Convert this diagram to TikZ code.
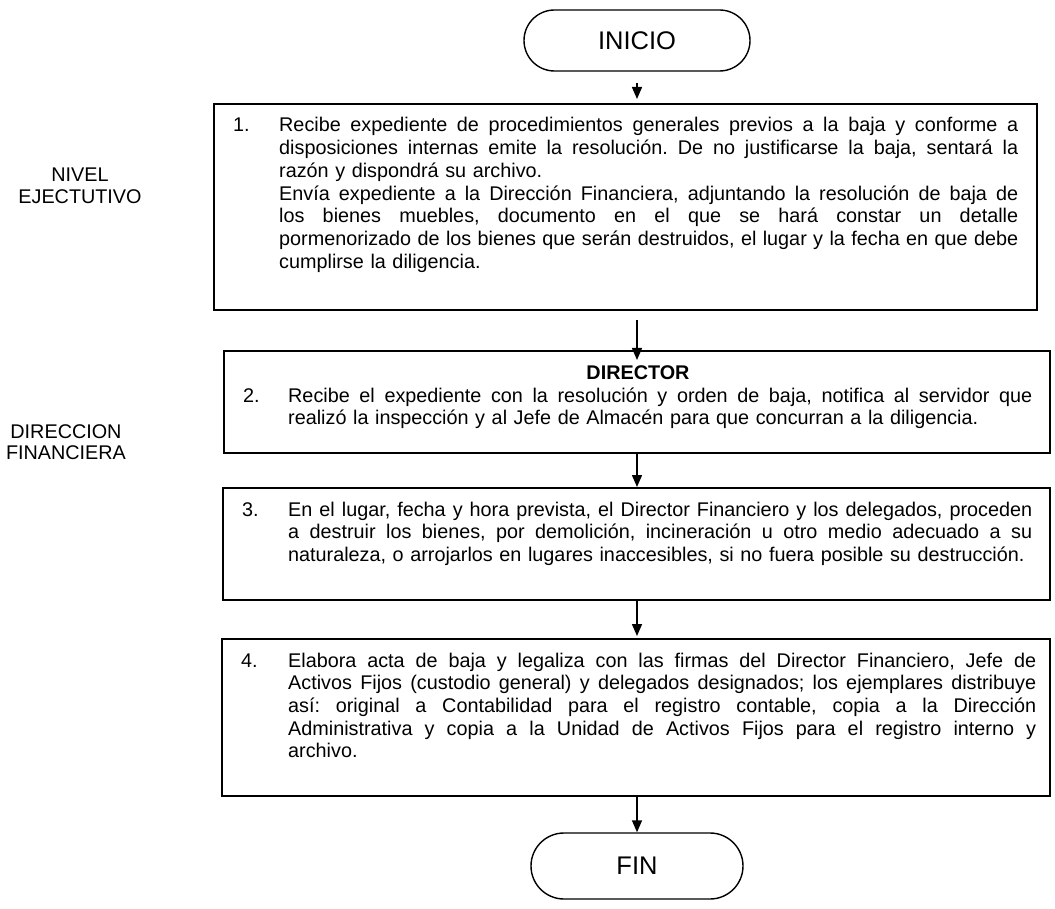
\documentclass[tikz,border=0pt]{standalone}
\usepackage{fontspec}
\setmainfont{Liberation Sans}
\usetikzlibrary{arrows.meta,shapes.misc}

% one justified line / one natural-width line of a step description
\newcommand{\stepw}{700pt}
\newcommand{\jline}[1]{\makebox[\stepw][s]{\spaceskip=0.278em plus 1em minus 0.1em\relax #1}\par}
\newcommand{\lline}[1]{\mbox{#1}\par}

\tikzset{
  stepbox/.style={draw, line width=1.8pt, rectangle, inner sep=0pt, outer sep=0pt, anchor=north west},
  terminal/.style={draw, line width=1.4pt, rounded rectangle, inner sep=0pt,
                   font=\fontsize{25.5}{30}\selectfont},
  bodytext/.style={inner sep=0pt, anchor=base west, font=\fontsize{19.8}{22.7}\selectfont\frenchspacing},
  steptext/.style={bodytext, text width=#1, execute at begin node={\def\stepw{#1}}},
  lanelabel/.style={align=center, inner sep=0pt, font=\fontsize{19.8}{21.5}\selectfont},
  flow/.style={line width=1.5pt, -{Triangle[width=10pt,length=12pt]}},
}

\begin{document}
\begin{tikzpicture}[x=1pt,y=-1pt]
\useasboundingbox (0,0) rectangle (1055,909);

% lane labels
\node[lanelabel] (lane1) at (80,186) {NIVEL\\EJECTUTIVO};
\node[lanelabel] (lane2) at (66,442) {DIRECCION\\FINANCIERA};

% start / end
\node[terminal, minimum width=226pt, minimum height=61pt] (inicio) at (637,40.5) {INICIO};
\node[terminal, minimum width=212pt, minimum height=66pt] (fin) at (637,866) {FIN};
\coordinate (col) at (637,0);

% step boxes
\node[stepbox, minimum width=823pt, minimum height=206pt] (b1) at (214,104) {};
\node[stepbox, minimum width=826pt, minimum height=102pt] (b2) at (224,351) {};
\node[stepbox, minimum width=827pt, minimum height=112pt] (b3) at (223,488) {};
\node[stepbox, minimum width=828pt, minimum height=157pt] (b4) at (222,639) {};

% step 1
\node[bodytext] (n1) at (233,132) {1.};
\node[steptext=739pt] (t1) at (279,132) {%
\jline{Recibe expediente de procedimientos generales previos a la baja y conforme a}
\jline{disposiciones internas emite la resolución. De no justificarse la baja, sentará la}
\lline{razón y dispondrá su archivo.}
\jline{Envía expediente a la Dirección Financiera, adjuntando la resolución de baja de}
\jline{los bienes muebles, documento en el que se hará constar un detalle}
\jline{pormenorizado de los bienes que serán destruidos, el lugar y la fecha en que debe}
\lline{cumplirse la diligencia.}};

% step 2
\node[bodytext, anchor=base, font=\fontsize{19.8}{22.7}\selectfont\bfseries] (dir) at (638,379) {DIRECTOR};
\node[bodytext] (n2) at (243,402) {2.};
\node[steptext=744pt] (t2) at (288,402) {%
\jline{Recibe el expediente con la resolución y orden de baja, notifica al servidor que}
\lline{realizó la inspección y al Jefe de Almacén para que concurran a la diligencia.}};

% step 3
\node[bodytext] (n3) at (242,516) {3.};
\node[steptext=744pt] (t3) at (288,516) {%
\jline{En el lugar, fecha y hora prevista, el Director Financiero y los delegados, proceden}
\jline{a destruir los bienes, por demolición, incineración u otro medio adecuado a su}
\lline{naturaleza, o arrojarlos en lugares inaccesibles, si no fuera posible su destrucción.}};

% step 4
\node[bodytext] (n4) at (241,667) {4.};
\node[steptext=748pt] (t4) at (288,667) {%
\jline{Elabora acta de baja y legaliza con las firmas del Director Financiero, Jefe de}
\jline{Activos Fijos (custodio general) y delegados designados; los ejemplares distribuye}
\jline{así: original a Contabilidad para el registro contable, copia a la Dirección}
\jline{Administrativa y copia a la Unidad de Activos Fijos para el registro interno y}
\lline{archivo.}};

% connectors
\draw[flow, shorten <=11pt, shorten >=5pt] (col |- inicio.south) -- (col |- b1.north);
\draw[flow, shorten <=10pt, shorten >=-9pt] (col |- b1.south) -- (col |- b2.north);
\draw[flow, shorten >=1pt] (col |- b2.south) -- (col |- b3.north);
\draw[flow, shorten >=3pt] (col |- b3.south) -- (col |- b4.north);
\draw[flow] (col |- b4.south) -- (fin.north);
\end{tikzpicture}
\end{document}
